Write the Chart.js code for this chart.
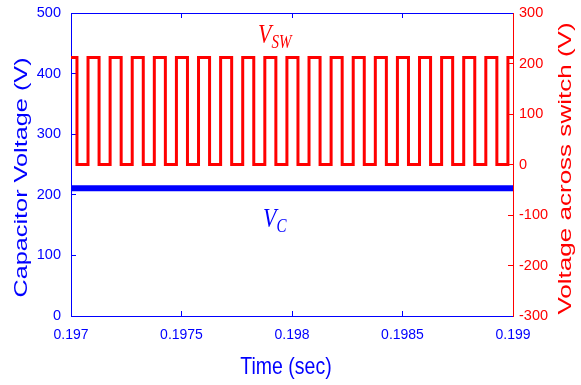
<!DOCTYPE html>
<html>
<head>
<meta charset="utf-8">
<script src="https://cdn.jsdelivr.net/npm/chart.js@4/dist/chart.umd.min.js"></script>
<style>
html,body{margin:0;padding:0;background:#fff;}
#c{display:block;}
</style>
</head>
<body>
<canvas id="c" width="581" height="385" style="width:581px;height:385px"></canvas>
<script>
// ---------------- data ----------------
const timeMin = 0.197;
const timeMax = 0.199;
const timeTicks = [0.197, 0.1975, 0.198, 0.1985, 0.199];
const timeTickLabels = ['0.197', '0.1975', '0.198', '0.1985', '0.199'];
const capTicks = [0, 100, 200, 300, 400, 500];
const capTickLabels = ['0', '100', '200', '300', '400', '500'];
const swTicks = [-300, -200, -100, 0, 100, 200, 300];
const swTickLabels = ['-300', '-200', '-100', '0', '100', '200', '300'];

// capacitor voltage (left axis)
const capTime = [0.197, 0.199];
const capVoltage = [211, 211];

// voltage across switch (right axis), value holds from each time until the next
const swTime = [
  0.197, 0.197027, 0.197077, 0.197127, 0.197177, 0.197227, 0.197277, 0.197327,
  0.197377, 0.197427, 0.197477, 0.197527, 0.197577, 0.197627, 0.197677, 0.197727,
  0.197777, 0.197827, 0.197877, 0.197927, 0.197977, 0.198027, 0.198077, 0.198127,
  0.198177, 0.198227, 0.198277, 0.198327, 0.198377, 0.198427, 0.198477, 0.198527,
  0.198577, 0.198627, 0.198677, 0.198727, 0.198777, 0.198827, 0.198877, 0.198927,
  0.198977, 0.199
];
const swVoltage = [
  212, 0, 212, 0, 212, 0, 212, 0,
  212, 0, 212, 0, 212, 0, 212, 0,
  212, 0, 212, 0, 212, 0, 212, 0,
  212, 0, 212, 0, 212, 0, 212, 0,
  212, 0, 212, 0, 212, 0, 212, 0,
  212, 212
];

// text labels
const xTitle = 'Time (sec)';
const yLeftTitle = 'Capacitor Voltage (V)';
const yRightTitle = 'Voltage across switch (V)';
const swLabel = {main: 'V', sub: 'SW', x: 0.197846, y: 240};
const capLabel = {main: 'V', sub: 'C', x: 0.197869, y: 147};

// ---------------- styles ----------------
const BLUE = '#0000ff';
const RED = '#ff0000';
const SANS = "'Liberation Sans', Arial, sans-serif";
const SERIF = "'Liberation Serif', 'Times New Roman', serif";

function setTicks(values) {
  return function(scale) { scale.ticks = values.map(v => ({value: v})); };
}
function endTransparent(color) {
  return function(c) {
    const n = c.chart.scales[c.scale.id].ticks.length;
    return (c.index === 0 || c.index === n - 1) ? 'rgba(0,0,0,0)' : color;
  };
}

const textPlugin = {
  id: 'texts',
  afterDraw(chart) {
    const {ctx, chartArea, scales} = chart;
    const midY = (chartArea.top + chartArea.bottom) / 2;
    const midX = (chartArea.left + chartArea.right) / 2;

    function vText(text, x, y, color, stretch) {
      ctx.save();
      ctx.translate(x, y);
      ctx.rotate(-Math.PI / 2);
      ctx.scale(stretch, 1);
      ctx.font = '19px ' + SANS;
      ctx.fillStyle = color;
      ctx.textAlign = 'center';
      ctx.textBaseline = 'alphabetic';
      ctx.fillText(text, 0, 0);
      ctx.restore();
    }
    vText(yLeftTitle, 27, midY + 13, BLUE, 1.33);
    vText(yRightTitle, 571, midY + 4, RED, 1.37);

    // x axis title
    ctx.save();
    ctx.translate(midX - 6, 374);
    ctx.scale(1, 1.2);
    ctx.font = '19.5px ' + SANS;
    ctx.fillStyle = BLUE;
    ctx.textAlign = 'center';
    ctx.textBaseline = 'alphabetic';
    ctx.fillText(xTitle, 0, 0);
    ctx.restore();

    function subText(lbl, yScale, color) {
      const px = scales.x.getPixelForValue(lbl.x);
      const py = scales[yScale].getPixelForValue(lbl.y);
      ctx.save();
      ctx.fillStyle = color;
      ctx.textAlign = 'left';
      ctx.textBaseline = 'alphabetic';
      ctx.translate(px, py);
      ctx.scale(1, 1.2);
      ctx.font = 'italic 22px ' + SERIF;
      ctx.fillText(lbl.main, 0, 0);
      const w = ctx.measureText(lbl.main).width;
      ctx.font = 'italic 15px ' + SERIF;
      ctx.fillText(lbl.sub, w, 4);
      ctx.restore();
    }
    subText(swLabel, 'y2', RED);
    subText(capLabel, 'y', BLUE);
  }
};

function yFit(width) {
  return function(s) { s.width = width; s.paddingTop = 0; s.paddingBottom = 0; };
}

new Chart(document.getElementById('c'), {
  type: 'line',
  data: {
    datasets: [
      {
        label: 'Capacitor voltage',
        data: capTime.map((t, i) => ({x: t, y: capVoltage[i]})),
        yAxisID: 'y',
        borderColor: BLUE,
        borderWidth: 6,
        pointRadius: 0,
        fill: false
      },
      {
        label: 'Switch voltage',
        data: swTime.map((t, i) => ({x: t, y: swVoltage[i]})),
        yAxisID: 'y2',
        borderColor: RED,
        borderWidth: 3,
        pointRadius: 0,
        stepped: 'before',
        fill: false
      }
    ]
  },
  options: {
    responsive: false,
    animation: false,
    devicePixelRatio: 1,
    layout: {padding: {top: 13, left: 0, right: 0, bottom: 0}},
    plugins: {legend: {display: false}, tooltip: {enabled: false}},
    scales: {
      x: {
        type: 'linear', position: 'bottom', min: timeMin, max: timeMax,
        afterBuildTicks: setTicks(timeTicks),
        afterFit(s) { s.height = 69; s.paddingLeft = 0; s.paddingRight = 0; },
        border: {display: true, color: BLUE, width: 1},
        grid: {drawOnChartArea: false, drawTicks: true, tickLength: -5, color: endTransparent(BLUE)},
        ticks: {
          color: BLUE, padding: 16, autoSkip: false, maxRotation: 0,
          font: {family: SANS, size: 14},
          callback: (v, i) => timeTickLabels[i]
        },
        title: {display: false}
      },
      x2: {
        type: 'linear', position: 'top', min: timeMin, max: timeMax,
        afterBuildTicks: setTicks(timeTicks),
        afterFit(s) { s.height = 0; s.paddingLeft = 0; s.paddingRight = 0; },
        border: {display: true, color: BLUE, width: 1},
        grid: {drawOnChartArea: false, drawTicks: true, tickLength: -5, color: endTransparent(BLUE)},
        ticks: {display: false}
      },
      y: {
        type: 'linear', position: 'left', min: 0, max: 500,
        afterBuildTicks: setTicks(capTicks),
        afterFit: yFit(71),
        border: {display: true, color: BLUE, width: 1},
        grid: {drawOnChartArea: false, drawTicks: true, tickLength: -5, color: BLUE},
        ticks: {
          color: BLUE, padding: 15,
          font: {family: SANS, size: 14.5},
          callback: (v, i) => capTickLabels[i]
        }
      },
      y2: {
        type: 'linear', position: 'right', min: -300, max: 300,
        afterBuildTicks: setTicks(swTicks),
        afterFit: yFit(68),
        border: {display: true, color: RED, width: 1},
        grid: {drawOnChartArea: false, drawTicks: true, tickLength: -5, color: RED},
        ticks: {
          color: RED, padding: 11,
          font: {family: SANS, size: 14.5},
          callback: (v, i) => swTickLabels[i]
        }
      }
    }
  },
  plugins: [textPlugin]
});
</script>
</body>
</html>
